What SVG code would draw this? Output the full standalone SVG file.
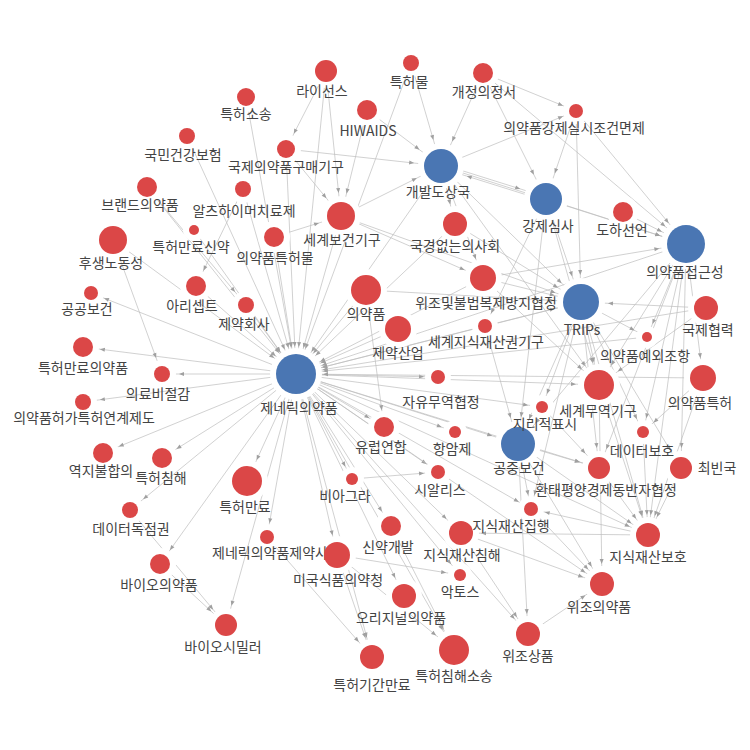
<svg xmlns="http://www.w3.org/2000/svg" width="750" height="750" viewBox="0 0 750 750">
<style>
.e line{stroke:#bdbdbd;stroke-width:0.7;fill:none}
.s{marker-end:url(#as)}.m{marker-end:url(#am)}.l{marker-end:url(#al)}.x{marker-end:url(#ax)}.h{marker-end:url(#ah)}
.node circle{fill:#db4747}
.node.hub circle{fill:#4a76b3}
.node text{font-family:"Noto Sans CJK KR","Noto Sans",sans-serif;font-size:14px;fill:#444;text-anchor:middle}
</style>
<defs>
<marker id="as" markerUnits="userSpaceOnUse" orient="auto" refX="0" refY="0" markerWidth="1" markerHeight="1" overflow="visible"><path d="M-14,0L-19,-2L-19,2Z" fill="#a0a0a0"/></marker>
<marker id="am" markerUnits="userSpaceOnUse" orient="auto" refX="0" refY="0" markerWidth="1" markerHeight="1" overflow="visible"><path d="M-17,0L-22,-2L-22,2Z" fill="#a0a0a0"/></marker>
<marker id="al" markerUnits="userSpaceOnUse" orient="auto" refX="0" refY="0" markerWidth="1" markerHeight="1" overflow="visible"><path d="M-20,0L-25,-2L-25,2Z" fill="#a0a0a0"/></marker>
<marker id="ax" markerUnits="userSpaceOnUse" orient="auto" refX="0" refY="0" markerWidth="1" markerHeight="1" overflow="visible"><path d="M-23,0L-28,-2L-28,2Z" fill="#a0a0a0"/></marker>
<marker id="ah" markerUnits="userSpaceOnUse" orient="auto" refX="0" refY="0" markerWidth="1" markerHeight="1" overflow="visible"><path d="M-27,0L-32,-2L-32,2Z" fill="#a0a0a0"/></marker>
<mask id="gap" maskUnits="userSpaceOnUse" x="0" y="0" width="750" height="750">
<rect width="750" height="750" fill="#fff"/>
<g fill="#000">
<circle cx="296" cy="374" r="26"/><circle cx="441" cy="166" r="23"/><circle cx="546" cy="199" r="22"/><circle cx="686" cy="244" r="25"/><circle cx="581" cy="302" r="24"/><circle cx="518" cy="444" r="23"/>
<circle cx="411" cy="63" r="14"/><circle cx="326" cy="71" r="17"/><circle cx="483" cy="73" r="16"/><circle cx="246" cy="97" r="15"/><circle cx="367" cy="110" r="16"/><circle cx="576" cy="111" r="13"/>
<circle cx="187" cy="136" r="14"/><circle cx="286" cy="149" r="15"/><circle cx="243" cy="189" r="14"/><circle cx="147" cy="187" r="16"/><circle cx="341" cy="216" r="20"/><circle cx="455" cy="224" r="18"/>
<circle cx="623" cy="212" r="16"/><circle cx="194" cy="230" r="11"/><circle cx="113" cy="240" r="20"/><circle cx="274" cy="237" r="16"/><circle cx="196" cy="286" r="16"/><circle cx="366" cy="290" r="21"/>
<circle cx="483" cy="278" r="19"/><circle cx="246" cy="305" r="14"/><circle cx="91" cy="293" r="13"/><circle cx="706" cy="308" r="18"/><circle cx="398" cy="329" r="19"/><circle cx="485" cy="326" r="13"/>
<circle cx="647" cy="337" r="11"/><circle cx="83" cy="347" r="16"/><circle cx="162" cy="374" r="14"/><circle cx="438" cy="377" r="13"/><circle cx="703" cy="378" r="19"/><circle cx="599" cy="385" r="21"/>
<circle cx="83" cy="402" r="14"/><circle cx="542" cy="407" r="12"/><circle cx="384" cy="427" r="16"/><circle cx="455" cy="432" r="12"/><circle cx="643" cy="432" r="12"/><circle cx="103" cy="453" r="16"/>
<circle cx="162" cy="458" r="16"/><circle cx="681" cy="468" r="17"/><circle cx="599" cy="468" r="17"/><circle cx="438" cy="472" r="13"/><circle cx="247" cy="481" r="21"/><circle cx="352" cy="479" r="12"/>
<circle cx="130" cy="510" r="14"/><circle cx="531" cy="509" r="13"/><circle cx="391" cy="526" r="16"/><circle cx="461" cy="533" r="18"/><circle cx="648" cy="535" r="18"/><circle cx="267" cy="537" r="13"/>
<circle cx="160" cy="564" r="16"/><circle cx="337" cy="555" r="19"/><circle cx="460" cy="575" r="12"/><circle cx="602" cy="584" r="18"/><circle cx="404" cy="596" r="18"/><circle cx="226" cy="625" r="17"/>
<circle cx="528" cy="634" r="18"/><circle cx="372" cy="657" r="18"/><circle cx="454" cy="650" r="21"/>
</g>
</mask>
</defs>
<rect width="750" height="750" fill="#fff"/>
<g id="edges" class="e" mask="url(#gap)">
<line class="m" x1="296" y1="374" x2="83" y2="347"/>
<line class="m" x1="296" y1="374" x2="162" y2="374"/>
<line class="m" x1="296" y1="374" x2="83" y2="402"/>
<line class="s" x1="296" y1="374" x2="91" y2="293"/>
<line class="m" x1="296" y1="374" x2="103" y2="453"/>
<line class="m" x1="296" y1="374" x2="162" y2="458"/>
<line class="m" x1="296" y1="374" x2="160" y2="564"/>
<line class="l" x1="296" y1="374" x2="226" y2="625"/>
<line class="s" x1="296" y1="374" x2="267" y2="537"/>
<line class="l" x1="296" y1="374" x2="337" y2="555"/>
<line class="l" x1="296" y1="374" x2="372" y2="657"/>
<line class="s" x1="296" y1="374" x2="352" y2="479"/>
<line class="m" x1="296" y1="374" x2="391" y2="526"/>
<line class="l" x1="296" y1="374" x2="404" y2="596"/>
<line class="x" x1="296" y1="374" x2="454" y2="650"/>
<line class="s" x1="296" y1="374" x2="438" y2="472"/>
<line class="s" x1="296" y1="374" x2="460" y2="575"/>
<line class="m" x1="296" y1="374" x2="384" y2="427"/>
<line class="s" x1="296" y1="374" x2="455" y2="432"/>
<line class="s" x1="296" y1="374" x2="438" y2="377"/>
<line class="l" x1="296" y1="374" x2="461" y2="533"/>
<line class="s" x1="296" y1="374" x2="531" y2="509"/>
<line class="l" x1="296" y1="374" x2="648" y2="535"/>
<line class="l" x1="296" y1="374" x2="602" y2="584"/>
<line class="l" x1="296" y1="374" x2="599" y2="468"/>
<line class="s" x1="296" y1="374" x2="542" y2="407"/>
<line class="h" x1="296" y1="374" x2="518" y2="444"/>
<line class="x" x1="296" y1="374" x2="247" y2="481"/>
<line class="m" x1="296" y1="374" x2="130" y2="510"/>
<line class="x" x1="296" y1="374" x2="599" y2="385"/>
<line class="l" x1="296" y1="374" x2="528" y2="634"/>
<line class="h" x1="246" y1="97" x2="296" y2="374"/>
<line class="h" x1="187" y1="136" x2="296" y2="374"/>
<line class="h" x1="147" y1="187" x2="296" y2="374"/>
<line class="h" x1="194" y1="230" x2="296" y2="374"/>
<line class="h" x1="113" y1="240" x2="296" y2="374"/>
<line class="h" x1="243" y1="189" x2="296" y2="374"/>
<line class="h" x1="274" y1="237" x2="296" y2="374"/>
<line class="h" x1="196" y1="286" x2="296" y2="374"/>
<line class="h" x1="246" y1="305" x2="296" y2="374"/>
<line class="h" x1="326" y1="71" x2="296" y2="374"/>
<line class="h" x1="411" y1="63" x2="296" y2="374"/>
<line class="h" x1="341" y1="216" x2="296" y2="374"/>
<line class="h" x1="366" y1="290" x2="296" y2="374"/>
<line class="h" x1="398" y1="329" x2="296" y2="374"/>
<line class="h" x1="483" y1="278" x2="296" y2="374"/>
<line class="h" x1="485" y1="326" x2="296" y2="374"/>
<line class="h" x1="581" y1="302" x2="296" y2="374"/>
<line class="h" x1="686" y1="244" x2="296" y2="374"/>
<line class="h" x1="441" y1="166" x2="296" y2="374"/>
<line class="h" x1="455" y1="224" x2="296" y2="374"/>
<line class="h" x1="706" y1="308" x2="296" y2="374"/>
<line class="h" x1="703" y1="378" x2="296" y2="374"/>
<line class="h" x1="647" y1="337" x2="296" y2="374"/>
<line class="h" x1="286" y1="149" x2="296" y2="374"/>
<line class="m" x1="326" y1="71" x2="286" y2="149"/>
<line class="x" x1="326" y1="71" x2="341" y2="216"/>
<line class="h" x1="286" y1="149" x2="441" y2="166"/>
<line class="x" x1="286" y1="149" x2="341" y2="216"/>
<line class="h" x1="367" y1="110" x2="441" y2="166"/>
<line class="x" x1="367" y1="110" x2="341" y2="216"/>
<line class="h" x1="411" y1="63" x2="441" y2="166"/>
<line class="h" x1="483" y1="73" x2="441" y2="166"/>
<line class="s" x1="483" y1="73" x2="576" y2="111"/>
<line class="h" x1="483" y1="73" x2="546" y2="199"/>
<line class="h" x1="483" y1="73" x2="686" y2="244"/>
<line class="s" x1="441" y1="166" x2="576" y2="111"/>
<line class="h" x1="576" y1="111" x2="546" y2="199"/>
<line class="h" x1="576" y1="111" x2="581" y2="302"/>
<line class="h" x1="576" y1="111" x2="686" y2="244"/>
<line class="h" x1="546" y1="199" x2="686" y2="244"/>
<line class="h" x1="441" y1="164" x2="546" y2="197"/>
<line class="h" x1="546" y1="201" x2="441" y2="168"/>
<line class="h" x1="341" y1="216" x2="441" y2="166"/>
<line class="x" x1="274" y1="237" x2="341" y2="216"/>
<line class="h" x1="341" y1="216" x2="581" y2="302"/>
<line class="l" x1="441" y1="166" x2="455" y2="224"/>
<line class="l" x1="441" y1="166" x2="483" y2="278"/>
<line class="h" x1="441" y1="166" x2="581" y2="302"/>
<line class="h" x1="441" y1="166" x2="686" y2="244"/>
<line class="x" x1="441" y1="166" x2="599" y2="385"/>
<line class="m" x1="113" y1="240" x2="162" y2="374"/>
<line class="m" x1="147" y1="187" x2="246" y2="305"/>
<line class="m" x1="243" y1="189" x2="196" y2="286"/>
<line class="h" x1="623" y1="212" x2="686" y2="244"/>
<line class="h" x1="546" y1="199" x2="581" y2="302"/>
<line class="x" x1="546" y1="199" x2="599" y2="385"/>
<line class="h" x1="546" y1="199" x2="518" y2="444"/>
<line class="s" x1="546" y1="199" x2="485" y2="326"/>
<line class="h" x1="455" y1="224" x2="581" y2="302"/>
<line class="l" x1="341" y1="216" x2="483" y2="278"/>
<line class="h" x1="366" y1="290" x2="581" y2="302"/>
<line class="m" x1="366" y1="290" x2="384" y2="427"/>
<line class="h" x1="483" y1="278" x2="686" y2="244"/>
<line class="h" x1="483" y1="278" x2="581" y2="302"/>
<line class="x" x1="483" y1="278" x2="599" y2="385"/>
<line class="h" x1="485" y1="326" x2="581" y2="302"/>
<line class="h" x1="485" y1="326" x2="518" y2="444"/>
<line class="h" x1="706" y1="308" x2="581" y2="302"/>
<line class="s" x1="686" y1="244" x2="647" y2="337"/>
<line class="x" x1="686" y1="244" x2="599" y2="385"/>
<line class="l" x1="686" y1="244" x2="703" y2="378"/>
<line class="l" x1="686" y1="244" x2="681" y2="468"/>
<line class="l" x1="686" y1="244" x2="648" y2="535"/>
<line class="s" x1="686" y1="244" x2="643" y2="432"/>
<line class="h" x1="686" y1="244" x2="518" y2="444"/>
<line class="l" x1="686" y1="244" x2="599" y2="468"/>
<line class="s" x1="581" y1="302" x2="647" y2="337"/>
<line class="s" x1="581" y1="302" x2="542" y2="407"/>
<line class="h" x1="581" y1="302" x2="518" y2="444"/>
<line class="l" x1="581" y1="302" x2="599" y2="468"/>
<line class="s" x1="581" y1="302" x2="643" y2="432"/>
<line class="l" x1="581" y1="302" x2="681" y2="468"/>
<line class="l" x1="581" y1="302" x2="648" y2="535"/>
<line class="x" x1="581" y1="302" x2="599" y2="385"/>
<line class="s" x1="581" y1="302" x2="531" y2="509"/>
<line class="l" x1="599" y1="385" x2="648" y2="535"/>
<line class="l" x1="599" y1="385" x2="602" y2="584"/>
<line class="l" x1="703" y1="378" x2="648" y2="535"/>
<line class="s" x1="703" y1="378" x2="643" y2="432"/>
<line class="x" x1="706" y1="308" x2="599" y2="385"/>
<line class="l" x1="643" y1="432" x2="648" y2="535"/>
<line class="l" x1="518" y1="444" x2="599" y2="468"/>
<line class="l" x1="518" y1="444" x2="648" y2="535"/>
<line class="l" x1="518" y1="444" x2="602" y2="584"/>
<line class="l" x1="518" y1="444" x2="528" y2="634"/>
<line class="s" x1="518" y1="444" x2="531" y2="509"/>
<line class="s" x1="648" y1="535" x2="531" y2="509"/>
<line class="l" x1="648" y1="535" x2="461" y2="533"/>
<line class="l" x1="461" y1="533" x2="528" y2="634"/>
<line class="l" x1="528" y1="634" x2="602" y2="584"/>
<line class="l" x1="461" y1="533" x2="602" y2="584"/>
<line class="l" x1="531" y1="509" x2="602" y2="584"/>
<line class="l" x1="542" y1="407" x2="599" y2="468"/>
<line class="l" x1="599" y1="468" x2="648" y2="535"/>
<line class="l" x1="681" y1="468" x2="648" y2="535"/>
<line class="s" x1="337" y1="555" x2="460" y2="575"/>
<line class="l" x1="337" y1="555" x2="372" y2="657"/>
<line class="l" x1="267" y1="537" x2="372" y2="657"/>
<line class="x" x1="337" y1="555" x2="454" y2="650"/>
<line class="x" x1="391" y1="526" x2="454" y2="650"/>
<line class="l" x1="130" y1="510" x2="226" y2="625"/>
<line class="l" x1="160" y1="564" x2="226" y2="625"/>
<line class="s" x1="352" y1="479" x2="438" y2="472"/>
</g>
<g id="nodes">
<g id="n-generic" class="node hub"><circle cx="296" cy="374" r="20"/><text x="299" y="413">제네릭의약품</text></g>
<g id="n-developing" class="node hub"><circle cx="441" cy="166" r="17"/><text x="438" y="197">개발도상국</text></g>
<g id="n-compulsory" class="node hub"><circle cx="546" cy="199" r="16"/><text x="548" y="231">강제심사</text></g>
<g id="n-access" class="node hub"><circle cx="686" cy="244" r="19"/><text x="685" y="277">의약품접근성</text></g>
<g id="n-trips" class="node hub"><circle cx="581" cy="302" r="18"/><text x="582" y="335">TRIPs</text></g>
<g id="n-publichealth" class="node hub"><circle cx="518" cy="444" r="17"/><text x="519" y="473">공중보건</text></g>
<g id="n1" class="node"><circle cx="411" cy="63" r="8"/><text x="409" y="87">특허물</text></g>
<g id="n2" class="node"><circle cx="326" cy="71" r="11"/><text x="322" y="96">라이선스</text></g>
<g id="n3" class="node"><circle cx="483" cy="73" r="10"/><text x="484" y="97">개정의정서</text></g>
<g id="n4" class="node"><circle cx="246" cy="97" r="9"/><text x="246" y="119">특허소송</text></g>
<g id="n5" class="node"><circle cx="367" cy="110" r="10"/><text x="368" y="136">HIWAIDS</text></g>
<g id="n6" class="node"><circle cx="576" cy="111" r="7"/><text x="574" y="133">의약품강제실시조건면제</text></g>
<g id="n7" class="node"><circle cx="187" cy="136" r="8"/><text x="183" y="160">국민건강보험</text></g>
<g id="n8" class="node"><circle cx="286" cy="149" r="9"/><text x="286" y="172">국제의약품구매기구</text></g>
<g id="n9" class="node"><circle cx="243" cy="189" r="8"/><text x="244" y="216">알츠하이머치료제</text></g>
<g id="n10" class="node"><circle cx="147" cy="187" r="10"/><text x="140" y="210">브랜드의약품</text></g>
<g id="n11" class="node"><circle cx="341" cy="216" r="14"/><text x="342" y="245">세계보건기구</text></g>
<g id="n12" class="node"><circle cx="455" cy="224" r="12"/><text x="455" y="251">국경없는의사회</text></g>
<g id="n13" class="node"><circle cx="623" cy="212" r="10"/><text x="622" y="235">도하선언</text></g>
<g id="n14" class="node"><circle cx="194" cy="230" r="5"/><text x="191" y="252">특허만료신약</text></g>
<g id="n15" class="node"><circle cx="113" cy="240" r="14"/><text x="111" y="268">후생노동성</text></g>
<g id="n16" class="node"><circle cx="274" cy="237" r="10"/><text x="275" y="263">의약품특허물</text></g>
<g id="n17" class="node"><circle cx="196" cy="286" r="10"/><text x="192" y="311">아리셉트</text></g>
<g id="n18" class="node"><circle cx="366" cy="290" r="15"/><text x="366" y="319">의약품</text></g>
<g id="n19" class="node"><circle cx="483" cy="278" r="13"/><text x="486" y="308">위조및불법복제방지협정</text></g>
<g id="n20" class="node"><circle cx="246" cy="305" r="8"/><text x="244" y="329">제약회사</text></g>
<g id="n21" class="node"><circle cx="91" cy="293" r="7"/><text x="87" y="314">공공보건</text></g>
<g id="n22" class="node"><circle cx="706" cy="308" r="12"/><text x="708" y="335">국제협력</text></g>
<g id="n23" class="node"><circle cx="398" cy="329" r="13"/><text x="398" y="358">제약산업</text></g>
<g id="n24" class="node"><circle cx="485" cy="326" r="7"/><text x="486" y="347">세계지식재산권기구</text></g>
<g id="n25" class="node"><circle cx="647" cy="337" r="5"/><text x="645" y="361">의약품예외조항</text></g>
<g id="n26" class="node"><circle cx="83" cy="347" r="10"/><text x="83" y="373">특허만료의약품</text></g>
<g id="n27" class="node"><circle cx="162" cy="374" r="8"/><text x="158" y="399">의료비절감</text></g>
<g id="n28" class="node"><circle cx="438" cy="377" r="7"/><text x="441" y="407">자유무역협정</text></g>
<g id="n29" class="node"><circle cx="703" cy="378" r="13"/><text x="700" y="408">의약품특허</text></g>
<g id="n30" class="node"><circle cx="599" cy="385" r="15"/><text x="598" y="416">세계무역기구</text></g>
<g id="n31" class="node"><circle cx="83" cy="402" r="8"/><text x="84" y="423">의약품허가특허연계제도</text></g>
<g id="n32" class="node"><circle cx="542" cy="407" r="6"/><text x="545" y="429">지리적표시</text></g>
<g id="n33" class="node"><circle cx="384" cy="427" r="10"/><text x="381" y="452">유럽연합</text></g>
<g id="n34" class="node"><circle cx="455" cy="432" r="6"/><text x="452" y="454">항암제</text></g>
<g id="n35" class="node"><circle cx="643" cy="432" r="6"/><text x="642" y="456">데이터보호</text></g>
<g id="n36" class="node"><circle cx="103" cy="453" r="10"/><text x="101" y="476">역지불합의</text></g>
<g id="n37" class="node"><circle cx="162" cy="458" r="10"/><text x="161" y="483">특허침해</text></g>
<g id="n38" class="node"><circle cx="681" cy="468" r="11"/><text x="717" y="473">최빈국</text></g>
<g id="n39" class="node"><circle cx="599" cy="468" r="11"/><text x="606" y="495">환태평양경제동반자협정</text></g>
<g id="n40" class="node"><circle cx="438" cy="472" r="7"/><text x="440" y="495">시알리스</text></g>
<g id="n41" class="node"><circle cx="247" cy="481" r="15"/><text x="245" y="512">특허만료</text></g>
<g id="n42" class="node"><circle cx="352" cy="479" r="6"/><text x="345" y="501">비아그라</text></g>
<g id="n43" class="node"><circle cx="130" cy="510" r="8"/><text x="131" y="534">데이터독점권</text></g>
<g id="n44" class="node"><circle cx="531" cy="509" r="7"/><text x="511" y="531">지식재산집행</text></g>
<g id="n45" class="node"><circle cx="391" cy="526" r="10"/><text x="388" y="552">신약개발</text></g>
<g id="n46" class="node"><circle cx="461" cy="533" r="12"/><text x="462" y="560">지식재산침해</text></g>
<g id="n47" class="node"><circle cx="648" cy="535" r="12"/><text x="648" y="562">지식재산보호</text></g>
<g id="n48" class="node"><circle cx="267" cy="537" r="7"/><text x="270" y="558">제네릭의약품제약사</text></g>
<g id="n49" class="node"><circle cx="160" cy="564" r="10"/><text x="159" y="590">바이오의약품</text></g>
<g id="n50" class="node"><circle cx="337" cy="555" r="13"/><text x="338" y="585">미국식품의약청</text></g>
<g id="n51" class="node"><circle cx="460" cy="575" r="6"/><text x="460" y="597">악토스</text></g>
<g id="n52" class="node"><circle cx="602" cy="584" r="12"/><text x="599" y="612">위조의약품</text></g>
<g id="n53" class="node"><circle cx="404" cy="596" r="12"/><text x="401" y="623">오리지널의약품</text></g>
<g id="n54" class="node"><circle cx="226" cy="625" r="11"/><text x="223" y="652">바이오시밀러</text></g>
<g id="n55" class="node"><circle cx="528" cy="634" r="12"/><text x="528" y="661">위조상품</text></g>
<g id="n56" class="node"><circle cx="372" cy="657" r="12"/><text x="372" y="690">특허기간만료</text></g>
<g id="n57" class="node"><circle cx="454" cy="650" r="15"/><text x="454" y="681">특허침해소송</text></g>
</g>
</svg>
